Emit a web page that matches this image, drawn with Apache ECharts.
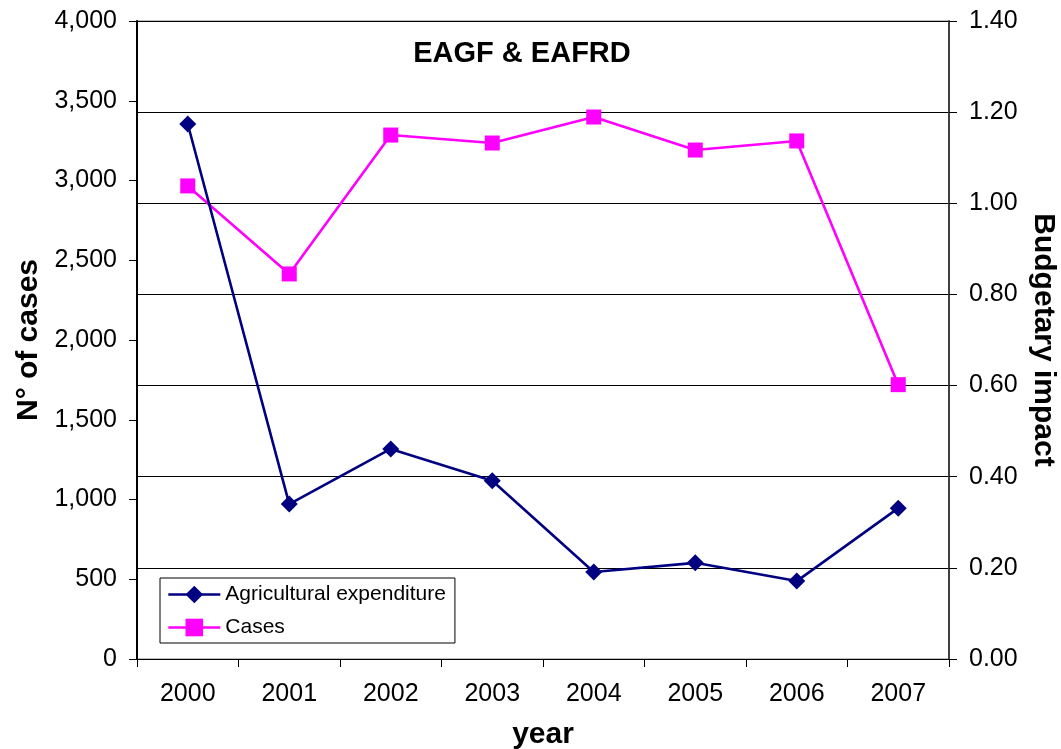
<!DOCTYPE html>
<html>
<head>
<meta charset="utf-8">
<script src="https://cdn.jsdelivr.net/npm/echarts@6/dist/echarts.min.js"></script>
<style>
  html, body { margin: 0; padding: 0; background: #fff; overflow: hidden; }
  #chart { width: 1061px; height: 749px; }
</style>
</head>
<body>
<div id="chart"></div>
<script>
// Years on the category axis
const years = ['2000', '2001', '2002', '2003', '2004', '2005', '2006', '2007'];
// Budgetary impact of agricultural expenditure (right axis)
const agriculturalExpenditure = [1.174, 0.340, 0.461, 0.391, 0.191, 0.211, 0.171, 0.331];
// Number of cases (left axis)
const cases = [2966, 2414, 3285, 3235, 3398, 3191, 3248, 1720];

const FONT = '"Liberation Sans", Arial, sans-serif';

const chart = echarts.init(document.getElementById('chart'));
chart.setOption({
  backgroundColor: '#ffffff',
  animation: false,
  textStyle: { fontFamily: FONT },
  title: {
    text: 'EAGF & EAFRD',
    left: 517, top: 34, textAlign: 'center',
    textStyle: { fontFamily: FONT, fontSize: 29, fontWeight: 'bold', color: '#000' }
  },
  grid: {
    left: 137, right: 112, top: 21, bottom: 90,
    outerBoundsMode: 'none',
    containLabel: false,
    show: true, borderColor: '#808080', borderWidth: 1, backgroundColor: '#fff'
  },
  legend: {
    orient: 'vertical',
    left: 160, top: 578,
    padding: [6, 9, 5, 7],
    itemGap: 12,
    itemWidth: 52, itemHeight: 22,
    borderColor: '#000', borderWidth: 1,
    borderRadius: 0,
    backgroundColor: '#fff',
    lineStyle: { width: 2.6 },
    textStyle: { fontFamily: FONT, fontSize: 21, color: '#000' },
    data: ['Agricultural expenditure', 'Cases']
  },
  xAxis: {
    type: 'category',
    data: years,
    boundaryGap: true,
    name: 'year',
    nameLocation: 'middle',
    nameGap: 61,
    nameTextStyle: { fontFamily: FONT, fontSize: 30, fontWeight: 'bold', color: '#000', verticalAlign: 'top' },
    axisLine: { lineStyle: { color: '#000', width: 1 } },
    axisTick: { show: true, length: 8, inside: false, lineStyle: { color: '#000' } },
    axisLabel: { fontFamily: FONT, fontSize: 25, color: '#000', margin: 23 },
    splitLine: { show: false }
  },
  yAxis: [
    {
      type: 'value',
      position: 'left',
      min: 0, max: 4000, interval: 500,
      name: 'N° of cases',
      nameLocation: 'middle',
      nameGap: 93,
      nameRotate: 90,
      nameTextStyle: { fontFamily: FONT, fontSize: 30, fontWeight: 'bold', color: '#000' },
      axisLine: { show: true, lineStyle: { color: '#000', width: 2 } },
      axisTick: { show: true, length: 8, lineStyle: { color: '#000' } },
      axisLabel: {
        fontFamily: FONT, fontSize: 25, color: '#000', margin: 20,
        formatter: v => v.toLocaleString('en-US')
      },
      splitLine: { show: false }
    },
    {
      type: 'value',
      position: 'right',
      min: 0, max: 1.4, interval: 0.2,
      name: 'Budgetary impact',
      nameLocation: 'middle',
      nameGap: 77,
      nameRotate: -90,
      nameTextStyle: { fontFamily: FONT, fontSize: 30, fontWeight: 'bold', color: '#000' },
      axisLine: { show: true, lineStyle: { color: '#404040', width: 2 } },
      axisTick: { show: true, length: 8, lineStyle: { color: '#000' } },
      axisLabel: {
        fontFamily: FONT, fontSize: 25, color: '#000', margin: 20,
        formatter: v => v.toFixed(2)
      },
      splitLine: { show: true, lineStyle: { color: '#000', width: 1 } }
    }
  ],
  series: [
    {
      name: 'Agricultural expenditure',
      type: 'line',
      yAxisIndex: 1,
      data: agriculturalExpenditure,
      symbol: 'diamond',
      symbolSize: 17,
      itemStyle: { color: '#000080' },
      lineStyle: { color: '#000080', width: 2.6 },
      z: 3
    },
    {
      name: 'Cases',
      type: 'line',
      yAxisIndex: 0,
      data: cases,
      symbol: 'rect',
      symbolSize: 15,
      itemStyle: { color: '#FF00FF' },
      lineStyle: { color: '#FF00FF', width: 2.6 },
      z: 2
    }
  ]
});
</script>
</body>
</html>
